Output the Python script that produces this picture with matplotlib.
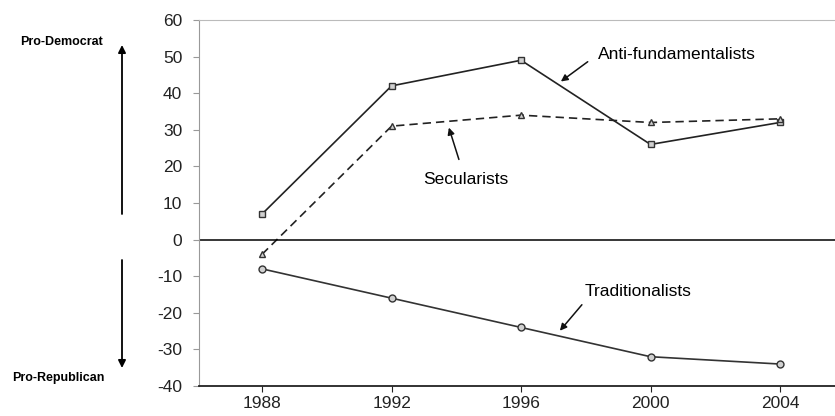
import matplotlib.pyplot as plt

# data
years = [1988, 1992, 1996, 2000, 2004]
anti_fund = [7, 42, 49, 26, 32]
secularists = [-4, 31, 34, 32, 33]
traditionalists = [-8, -16, -24, -32, -34]

plt.rcParams['font.family'] = ['Liberation Sans', 'DejaVu Sans']
plt.rcParams['axes.unicode_minus'] = False

W, H = 835, 416
fig = plt.figure(figsize=(W / 100, H / 100), dpi=100)
ax = fig.add_axes([199 / W, 1 - 386 / H, 1 - 199 / W, (386 - 20) / H])

mk = dict(markersize=5, markerfacecolor='#d0d0d0', markeredgecolor='#333333', markeredgewidth=1)
ax.plot(years, anti_fund, '-', color='#222222', lw=1.2, marker='s', **mk)
ax.plot(years, secularists, '--', color='#222222', lw=1.2, marker='^', dashes=(5, 3), **mk)
ax.plot(years, traditionalists, '-', color='#333333', lw=1.2, marker='o', **mk)

ax.axhline(0, color='black', lw=1.1)

ax.set_xlim(1986.05, 2005.7)
ax.set_ylim(-40, 60)
ax.set_xticks(years)
ax.set_yticks(range(-40, 61, 10))
ax.tick_params(labelsize=12.5, length=4, colors='#222222')
ax.tick_params(axis='y', color='#999999', pad=8)
ax.spines['right'].set_visible(False)
ax.spines['top'].set_color('#bbbbbb')
ax.spines['left'].set_color('#999999')
ax.spines['bottom'].set_color('#222222')
ax.spines['bottom'].set_linewidth(1.3)

# callout labels and their short arrows
arrow = dict(arrowstyle='-|>', color='#111111', lw=1.1, mutation_scale=10, shrinkA=0, shrinkB=0)
ax.text(1998.37, 50.5, 'Anti-fundamentalists', fontsize=12.5, va='center')
ax.annotate('', xy=(1997.23, 43.2), xytext=(1998.06, 48.6), arrowprops=arrow)
ax.text(1992.97, 16.4, 'Secularists', fontsize=12.5, va='center')
ax.annotate('', xy=(1993.77, 30.6), xytext=(1994.08, 21.9), arrowprops=arrow)
ax.text(1997.97, -14.2, 'Traditionalists', fontsize=12.5, va='center')
ax.annotate('', xy=(1997.2, -24.9), xytext=(1997.88, -17.8), arrowprops=arrow)

# side labels with long arrows, in figure pixels
fig.text(20 / W, 1 - 42 / H, 'Pro-Democrat', fontsize=9, fontweight='bold', va='center', ha='left')
fig.text(12 / W, 1 - 378 / H, 'Pro-Republican', fontsize=9, fontweight='bold', va='center', ha='left')
big = dict(arrowstyle='-|>', color='black', lw=1.3, mutation_scale=11, shrinkA=0, shrinkB=0)
ax.annotate('', xy=(122, H - 45), xytext=(122, H - 214), xycoords='figure pixels',
            textcoords='figure pixels', arrowprops=big, annotation_clip=False)
ax.annotate('', xy=(122, H - 368), xytext=(122, H - 260), xycoords='figure pixels',
            textcoords='figure pixels', arrowprops=big, annotation_clip=False)

fig.savefig('out.png', dpi=100)
